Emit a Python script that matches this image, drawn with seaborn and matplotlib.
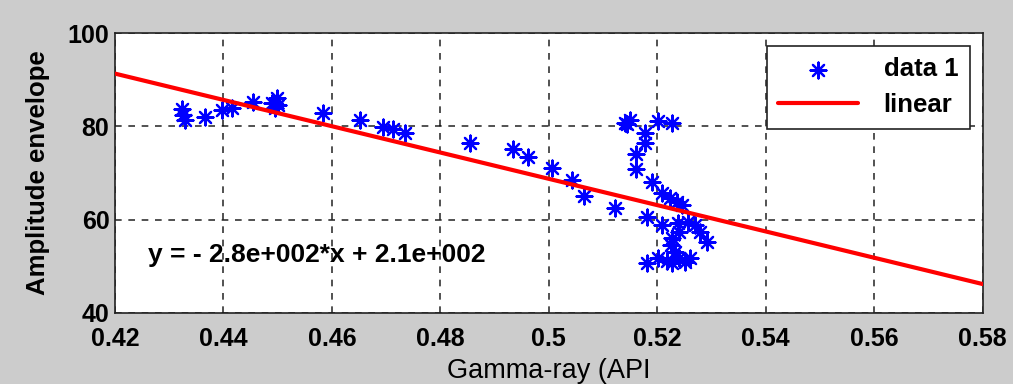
import numpy as np
import pandas as pd
import matplotlib
matplotlib.use("Agg")
import matplotlib.pyplot as plt
import seaborn as sns
from matplotlib import font_manager

gamma_ray = [0.4323, 0.4325, 0.4329, 0.4366, 0.4397, 0.4416, 0.4454, 0.4489, 0.4498, 0.4495,
             0.4500, 0.4583, 0.4652, 0.4694, 0.4712, 0.4735, 0.4854, 0.4934, 0.4961, 0.5006,
             0.5042, 0.5065, 0.5122, 0.5140, 0.5149, 0.5145, 0.5177, 0.5177, 0.5160, 0.5160,
             0.5201, 0.5228, 0.5190, 0.5208, 0.5223, 0.5236, 0.5245, 0.5182, 0.5208, 0.5238,
             0.5256, 0.5269, 0.5278, 0.5291, 0.5241, 0.5228, 0.5226, 0.5232, 0.5182, 0.5201,
             0.5228, 0.5241, 0.5260, 0.5251, 0.5218]
amplitude = [83.7, 82.4, 81.4, 82.0, 83.5, 83.9, 85.2, 85.0, 86.1, 83.9,
             84.6, 82.9, 81.4, 79.9, 79.4, 78.6, 76.4, 75.1, 73.4, 71.1,
             68.5, 65.1, 62.5, 80.7, 81.4, 80.4, 78.6, 76.4, 74.1, 70.9,
             81.1, 80.7, 68.1, 65.7, 64.6, 63.8, 63.1, 60.6, 58.9, 59.3,
             59.5, 58.9, 57.4, 55.2, 57.4, 56.1, 54.6, 53.1, 50.7, 51.8,
             50.7, 51.8, 51.8, 50.9, 51.2]

fit_x = [0.42, 0.58]
fit_slope = -281.9
fit_intercept = 209.7
fit_y = [fit_slope * v + fit_intercept for v in fit_x]

x_ticks = [0.42, 0.44, 0.46, 0.48, 0.5, 0.52, 0.54, 0.56, 0.58]
x_tick_labels = ["0.42", "0.44", "0.46", "0.48", "0.5", "0.52", "0.54", "0.56", "0.58"]
y_ticks = [40, 60, 80, 100]
equation_text = "y = - 2.8e+002*x + 2.1e+002"

sns.set_theme(style="white")
plt.rcParams['font.family'] = ['Liberation Sans', 'DejaVu Sans']

tick_fp = font_manager.FontProperties(family="Liberation Sans", weight="bold", size=18)
xlab_fp = font_manager.FontProperties(family="Liberation Sans", weight="normal", size=19.5)
ylab_fp = font_manager.FontProperties(family="Liberation Sans", weight="bold", size=18.5)
eq_fp = font_manager.FontProperties(family="Liberation Sans", weight="bold", size=19)
leg_fp = font_manager.FontProperties(family="Liberation Sans", weight="bold", size=18.5)

df = pd.DataFrame({"x": gamma_ray, "y": amplitude})
fit_df = pd.DataFrame({"x": fit_x, "y": fit_y})

fig = plt.figure(figsize=(10.13, 3.84), dpi=100, facecolor="#cccccc")
ax = fig.add_axes([0.1135, 0.185, 0.8565, 0.729])
ax.set_facecolor("white")

sns.scatterplot(data=df, x="x", y="y", ax=ax, marker=(8, 2, 0), color="#0000ff",
                s=130, linewidth=1.6, edgecolor="#0000ff", label="data 1", zorder=3)
sns.lineplot(data=fit_df, x="x", y="y", ax=ax, color="#ff0000", linewidth=3,
             label="linear", zorder=4)

ax.set_xlim(0.42, 0.58)
ax.set_ylim(40, 100)
ax.set_xticks(x_ticks)
ax.set_xticklabels(x_tick_labels)
ax.set_yticks(y_ticks)

ax.grid(True, color="black", linestyle=(0, (4, 4)), linewidth=1.2, alpha=0.8)
ax.set_axisbelow(True)
for sp in ax.spines.values():
    sp.set_color("#222222")
    sp.set_linewidth(1.2)
ax.tick_params(axis="both", direction="in", length=5, width=1.0, color="#222222",
               labelcolor="black")
ax.tick_params(axis="x", pad=10)
ax.tick_params(axis="y", pad=4)
for lab in ax.get_xticklabels() + ax.get_yticklabels():
    lab.set_fontproperties(tick_fp)

ax.set_xlabel("Gamma-ray (API", fontproperties=xlab_fp, color="black", labelpad=5)
ax.set_ylabel("Amplitude envelope", fontproperties=ylab_fp, color="black", labelpad=13)

ax.text(0.4261, 52.4, equation_text, fontproperties=eq_fp, color="black",
        va="center", ha="left")

leg = ax.legend(loc="upper right", frameon=True, fancybox=False, framealpha=1,
                edgecolor="#222222", borderpad=0.45, handlelength=3.1,
                handletextpad=1.0, prop=leg_fp,
                markerfirst=True, labelspacing=0.45, borderaxespad=0.5)
leg.get_frame().set_linewidth(1.2)
for t in leg.get_texts():
    t.set_color("black")

fig.savefig("out.png", dpi=100, facecolor=fig.get_facecolor())
